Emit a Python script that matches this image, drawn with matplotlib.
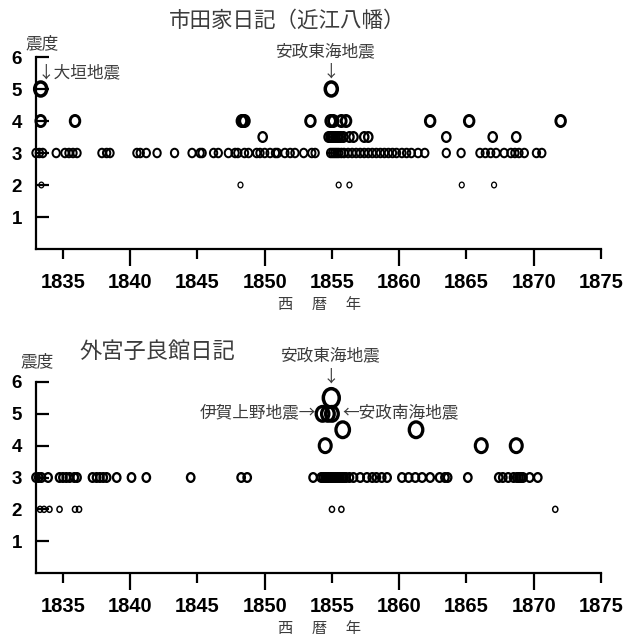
import numpy as np
import matplotlib
matplotlib.use('Agg')
import matplotlib.pyplot as plt
from matplotlib.path import Path
from matplotlib.ticker import FixedLocator, FormatStrFormatter

plt.rcParams['font.family'] = ['Noto Sans CJK JP', 'DejaVu Sans']

# 市田家日記 (近江八幡): years of felt earthquakes by seismic intensity
ichida_s2 = [1833.4, 1848.2, 1855.5, 1856.3, 1864.65, 1867.05]
ichida_s3 = [1833.0, 1833.25, 1833.5, 1834.5, 1835.15, 1835.45, 1835.75, 1836.05,
             1837.9, 1838.25, 1838.5, 1840.5, 1840.75, 1841.2, 1842.0, 1843.3,
             1844.6, 1845.2, 1845.35, 1846.2, 1846.55, 1847.3, 1847.8, 1848.0,
             1848.5, 1848.8, 1849.4, 1849.65, 1850.0, 1850.4, 1850.8, 1850.95,
             1851.5, 1851.9, 1852.25, 1852.9, 1853.5, 1853.75,
             1854.9, 1855.05, 1855.2, 1855.35, 1855.5, 1855.7, 1855.9, 1856.2,
             1856.5, 1856.8, 1857.1, 1857.4, 1857.7, 1858.0, 1858.3, 1858.6,
             1858.9, 1859.2, 1859.5, 1859.8, 1860.2, 1860.55, 1860.9, 1861.4,
             1861.9, 1863.5, 1864.6, 1866.0, 1866.4, 1866.8, 1867.2, 1867.8,
             1868.3, 1868.6, 1868.9, 1869.3, 1870.2, 1870.6]
ichida_s35 = [1849.85, 1854.75, 1854.9, 1855.0, 1855.1, 1855.25, 1855.4, 1855.5,
              1855.65, 1855.85, 1856.3, 1856.6, 1857.4, 1857.7, 1863.5, 1866.95,
              1868.7]
ichida_s4 = [1833.35, 1835.9, 1848.3, 1848.4, 1848.5, 1853.4, 1854.9, 1855.1,
             1855.7, 1856.05, 1862.3, 1865.2, 1872.0]
ichida_s5 = [1833.35, 1854.95]

# 外宮子良館日記
geku_s2 = [1833.3, 1833.6, 1834.0, 1834.75, 1835.9, 1836.2, 1855.0, 1855.7, 1871.6]
geku_s3 = [1833.0, 1833.2, 1833.4, 1833.9, 1834.75, 1835.0, 1835.25, 1835.5,
           1835.85, 1836.05, 1837.2, 1837.5, 1837.75, 1838.0, 1838.25, 1839.0,
           1840.1, 1841.2, 1844.5, 1848.25, 1848.7, 1853.6,
           1854.2, 1854.35, 1854.5, 1854.6, 1854.75, 1854.9, 1855.0, 1855.15,
           1855.3, 1855.45, 1855.6, 1855.75, 1855.9, 1856.05, 1856.3, 1856.6,
           1857.1, 1857.6, 1858.0, 1858.3, 1858.7, 1859.1, 1860.2, 1860.7,
           1861.2, 1861.7, 1862.3, 1863.0, 1863.4, 1863.6, 1865.1, 1867.4,
           1867.7, 1868.1, 1868.5, 1868.75, 1868.9, 1869.05, 1869.2, 1869.7,
           1870.3]
geku_s4 = [1854.5, 1866.1, 1868.7]
geku_s45 = [1855.8, 1861.25]
geku_s5 = [1854.3, 1854.7, 1855.0]
geku_s55 = [1854.95]

year_ticks = [1835, 1840, 1845, 1850, 1855, 1860, 1865, 1870, 1875]
shindo_ticks = [1, 2, 3, 4, 5, 6]

PX = 0.72  # points per pixel at dpi 100
TXT = '#3c3c3c'

# slightly tall ellipse, like a printed letter O
circ = Path.unit_circle()
oval = Path(circ.vertices * np.array([0.86, 1.0]), circ.codes)

# (outer diameter px, line width px) per intensity
style_top = {2: (7, 1.3), 3: (10.5, 2.0), 3.5: (12, 2.3), 4: (14, 2.9), 5: (17.5, 3.5)}
style_bot = {2: (7.5, 1.5), 3: (11, 2.3), 4: (17, 3.1), 4.5: (19, 3.3),
             5: (18, 3.3), 5.5: (22, 3.5)}


def draw_series(ax, years, level, style):
    outer, lw = style[level]
    d = (outer - lw) * PX
    ax.scatter(years, np.full(len(years), level), s=d ** 2, marker=oval,
               facecolors='none', edgecolors='black', linewidths=lw * PX,
               clip_on=False, zorder=3)


def setup_axes(ax):
    ax.set_xlim(1833, 1875)
    ax.set_ylim(0, 6)
    for s in ('top', 'right'):
        ax.spines[s].set_visible(False)
    for s in ('left', 'bottom'):
        ax.spines[s].set_linewidth(1.6)
    ax.xaxis.set_major_locator(FixedLocator(year_ticks[1::2]))
    ax.xaxis.set_minor_locator(FixedLocator(year_ticks[0::2]))
    ax.xaxis.set_minor_formatter(FormatStrFormatter('%d'))
    ax.tick_params(axis='x', which='major', direction='out', length=12, width=1.6, pad=5)
    ax.tick_params(axis='x', which='minor', direction='out', length=7, width=1.6, pad=10)
    ax.set_yticks(shindo_ticks)
    ax.tick_params(axis='y', direction='in', length=9.5, width=1.6, pad=10)
    for lab in ax.get_xticklabels(which='both') + ax.get_yticklabels():
        lab.set_family('Liberation Sans')
        lab.set_fontweight('bold')
    for lab in ax.get_xticklabels(which='both'):
        lab.set_fontsize(14.5)
    for lab in ax.get_yticklabels():
        lab.set_fontsize(13.5)


fig = plt.figure(figsize=(6.37, 6.41), dpi=100)
ax1 = fig.add_axes([36 / 637, 1 - 249 / 641, 565 / 637, 192 / 641])
ax2 = fig.add_axes([36 / 637, 1 - 573 / 641, 565 / 637, 191 / 641])
setup_axes(ax1)
setup_axes(ax2)

for yrs, lv in [(ichida_s2, 2), (ichida_s3, 3), (ichida_s35, 3.5),
                (ichida_s4, 4), (ichida_s5, 5)]:
    draw_series(ax1, yrs, lv, style_top)
for yrs, lv in [(geku_s2, 2), (geku_s3, 3), (geku_s4, 4), (geku_s45, 4.5),
                (geku_s5, 5), (geku_s55, 5.5)]:
    draw_series(ax2, yrs, lv, style_bot)

# titles and axis captions
fig.text(287 / 637, 1 - 21 / 641, '市田家日記（近江八幡）', ha='center', va='center',
         fontsize=15.5, color=TXT)
fig.text(157 / 637, 1 - 351 / 641, '外宮子良館日記', ha='center', va='center',
         fontsize=16, color=TXT)
for yc in (304, 628):
    fig.text(320 / 637, 1 - yc / 641, '西 　暦 　年', ha='center', va='center',
             fontsize=11, color=TXT)

kw = dict(fontsize=12, color=TXT, clip_on=False)
ax1.text(1833.42, 6.42, '震度', ha='center', va='center', **kw)
ax1.text(1833.1, 5.52, '↓大垣地震', ha='left', va='center', **kw)
ax1.text(1854.45, 6.17, '安政東海地震', ha='center', va='center', **kw)
ax1.text(1854.95, 5.52, '↓', ha='center', va='center', **kw)

ax2.text(1833.05, 6.64, '震度', ha='center', va='center', **kw)
ax2.text(1854.85, 6.83, '安政東海地震', ha='center', va='center', **kw)
ax2.text(1854.95, 6.17, '↓', ha='center', va='center', **kw)
ax2.text(1853.85, 5.02, '伊賀上野地震→', ha='right', va='center', **kw)
ax2.text(1855.8, 5.04, '←安政南海地震', ha='left', va='center', **kw)

fig.savefig('out.png', dpi=100)
